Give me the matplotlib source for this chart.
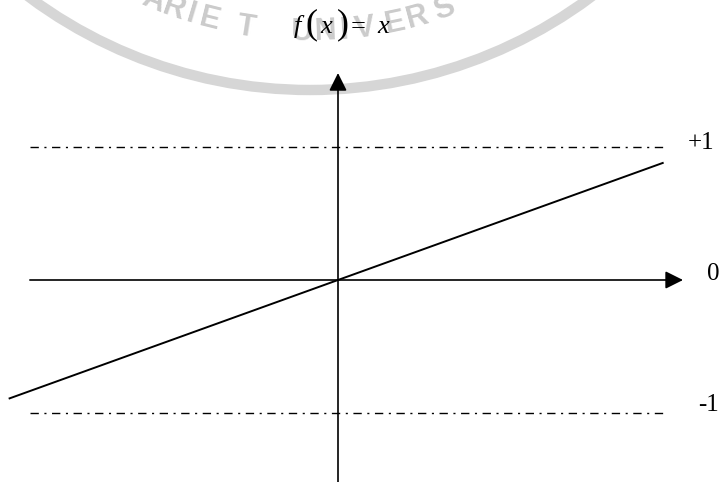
import numpy as np
import matplotlib
matplotlib.use("Agg")
import matplotlib.pyplot as plt
from matplotlib.patches import Arc

plt.rcParams["font.family"] = ["Liberation Serif", "DejaVu Serif"]

# data
x_line = [-0.89, 0.88]            # ends of the plotted f(x) = x
levels = [1, -1]                  # saturation levels (dash-dot)
level_labels = ["+1", "-1"]
level_span = [-0.835, 0.88]
x_axis_span = [-0.835, 0.935]
y_axis_span = [-1.52, 1.556]

watermark = "ARIET UNIVERS"

W, H = 722, 482
fig = plt.figure(figsize=(W / 100, H / 100), dpi=100)

# watermark layer (pixel coordinates)
bg = fig.add_axes([0, 0, 1, 1])
bg.set_xlim(0, W)
bg.set_ylim(H, 0)
bg.axis("off")
cx, cy, r = 310, -381, 471
bg.add_patch(Arc((cx, cy), 2 * r, 2 * r, theta1=0, theta2=180,
                 color="#d6d6d6", lw=7.5))
letter_x = [150, 171, 189, 208, 245, 270, 301, 326, 345, 366, 397, 420, 447]
rt = 421
for ch, px in zip(watermark, letter_x):
    if ch == " ":
        continue
    th = np.arcsin((px - cx) / rt)
    bg.text(cx + rt * np.sin(th), cy + rt * np.cos(th), ch,
            rotation=np.degrees(th), rotation_mode="anchor",
            ha="center", va="baseline", fontsize=22, color="#cbcbcb",
            family="Liberation Sans", weight="bold")

# title f(x) = x, pieced together so the brackets can be taller
title_parts = [("f", 294, 19, "italic"), ("(", 305, 26, "normal"),
               ("x", 320, 19, "italic"), (")", 337, 26, "normal"),
               ("=", 351, 19, "normal"), ("x", 377, 19, "italic")]
for s, px, fs, st in title_parts:
    bg.text(px, 33, s, fontsize=fs, style=st, ha="left", va="baseline",
            family="Liberation Serif")

# main drawing
ax = fig.add_axes([0, 0, 1, 1])
ax.patch.set_alpha(0)
ax.set_xlim(-338 / 369, (W - 338) / 369)
ax.set_ylim(-(H - 280) / 133, 280 / 133)
ax.axis("off")

arrow = dict(arrowstyle="-|>,head_length=0.54,head_width=0.27",
             color="black", lw=1.2, mutation_scale=20, shrinkA=0, shrinkB=0)
ax.annotate("", xy=(x_axis_span[1], 0), xytext=(x_axis_span[0], 0), arrowprops=arrow)
ax.annotate("", xy=(0, y_axis_span[1]), xytext=(0, y_axis_span[0]), arrowprops=arrow)

ax.plot(x_line, x_line, color="black", lw=1.4)

for lv in levels:
    ax.plot(level_span, [lv, lv], color="black", lw=1.0,
            dashes=(6, 4, 1.5, 4))

ax.text(0.948, 1.03, level_labels[0], fontsize=18, va="center", ha="left")
ax.text(0.976, -0.94, level_labels[1], fontsize=18, va="center", ha="left")
ax.text(1.0, 0.045, "0", fontsize=18, va="center", ha="left")

fig.savefig("out.png", dpi=100)
